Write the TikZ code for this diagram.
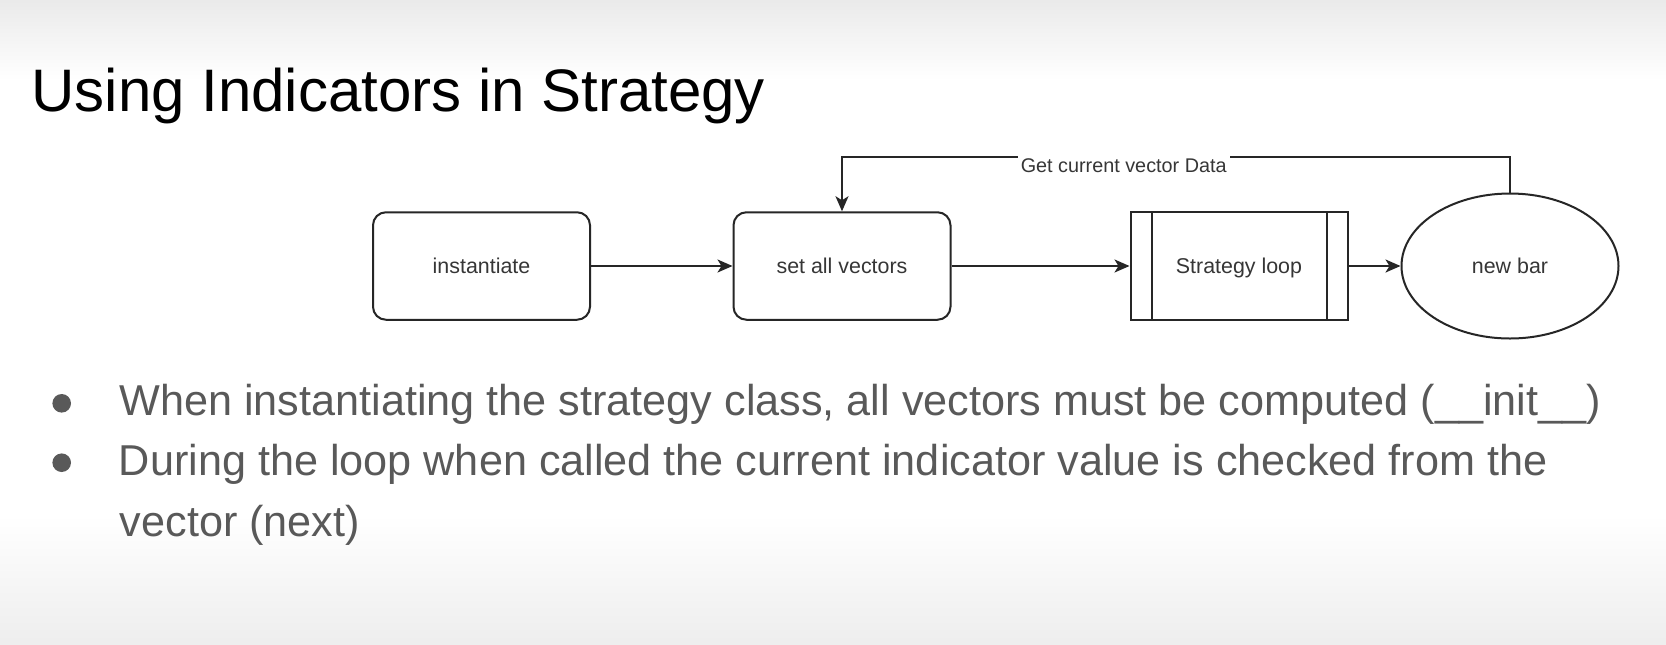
\documentclass[tikz,border=0pt]{standalone}
\usepackage{fontspec}
\setmainfont{Liberation Sans}
\usetikzlibrary{arrows.meta,shapes.geometric}

\definecolor{bulletgray}{HTML}{595959}
\definecolor{inkgray}{HTML}{363636}
\definecolor{edgegray}{HTML}{262626}
\definecolor{vignette}{HTML}{E2E2E2}

\begin{document}
\begin{tikzpicture}[x=0.5pt,y=-0.5pt,
  box/.style={draw=edgegray, line width=1pt, minimum width=108.5pt,
    minimum height=53.75pt, inner sep=0pt, text=inkgray,
    text height=8pt, text depth=0.5pt,
    font=\fontsize{10.7}{12}\selectfont},
  rbox/.style={box, rounded corners=6.5pt},
  oval/.style={box, ellipse, minimum height=72.5pt},
  link/.style={draw=edgegray, line width=1pt,
    -{Stealth[length=7.5pt,width=6.5pt,inset=2pt]}},
  edgelabel/.style={fill=white, inner sep=1.5pt, anchor=base, text=inkgray,
    font=\fontsize{9.9}{12}\selectfont},
  bullettext/.style={anchor=base west, inner sep=0pt, text=bulletgray,
    font=\fontsize{21.6}{26}\selectfont},
  bulletdot/.style={fill=bulletgray}
]
% page and soft top/bottom shading (bands run past the page edge)
\fill[white] (0,0) rectangle (1666,644);
\useasboundingbox (0,0) rectangle (1666,644);
\shade[top color=vignette, bottom color=white] (0,-30) rectangle (1666,80);
\shade[top color=white, bottom color=vignette] (0,515) rectangle (1666,730);

% heading
\node[anchor=base west, inner sep=0pt, font=\fontsize{30}{36}\selectfont]
  (title) at (31,111.7) {Using Indicators in Strategy};

% flow nodes
\node[rbox] (inst) at (481.5,266) {instantiate};
\node[rbox] (sv)   at (842,266)   {set all vectors};
\node[box]  (sl)   at (1239,266)  {Strategy loop};
\draw[edgegray, line width=1pt]
  ([xshift=11pt]sl.north west) -- ([xshift=11pt]sl.south west)
  ([xshift=-11pt]sl.north east) -- ([xshift=-11pt]sl.south east);
\node[oval] (nb)   at (1510,266)  {new bar};

% connectors
\draw[link] (inst.east) -- (sv.west);
\draw[link] (sv.east) -- (sl.west);
\draw[link] (sl.east) -- (nb.west);
\coordinate (fbtop) at (1510,157);
\draw[link] (nb.north) -- (nb.north |- fbtop) -| (sv.north);
\node[edgelabel] (fblabel) at (1123.7,172.7) {Get current vector Data};

% bullet list
\fill[bulletdot] (61.7,403.3) circle (4.65pt);
\node[bullettext] (b1) at (119,415.7)
  {When instantiating the strategy class, all vectors must be computed (\_\_init\_\_)};
\fill[bulletdot] (61.7,462.7) circle (4.65pt);
\node[bullettext] (b2) at (118.5,475)
  {During the loop when called the current indicator value is checked from the};
\node[bullettext] (b3) at (119.5,536) {vector (next)};
\end{tikzpicture}
\end{document}
